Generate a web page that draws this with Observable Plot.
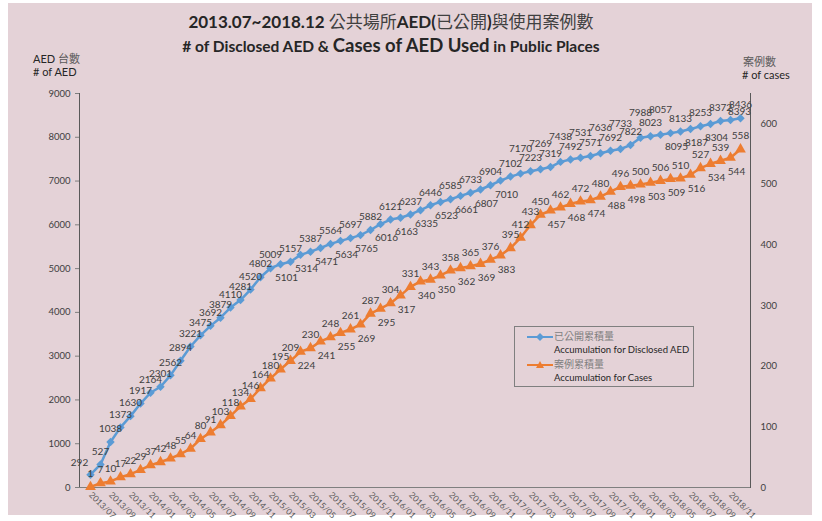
<!DOCTYPE html>
<html><head><meta charset="utf-8">
<script src="https://cdn.jsdelivr.net/npm/d3@7"></script>
<script src="https://cdn.jsdelivr.net/npm/@observablehq/plot@0.6"></script>
<style>
body{margin:0;background:#fff;}
#wrap{position:relative;width:822px;height:521px;overflow:hidden;font-family:Lato,"Noto Sans CJK TC",sans-serif;color:#262626;}
#bg{position:absolute;left:8px;top:3px;width:804px;height:512px;background:#e4d2d7;}
#chart{position:absolute;left:0;top:0;}
.t{position:absolute;white-space:nowrap;}
#t1{left:-20px;width:822px;top:8px;text-align:center;font-size:17px;}
#t2{left:-20px;width:822px;top:34px;text-align:center;font-size:15.5px;font-weight:bold;}
.b{font-weight:bold;}
.zh{font-family:"Noto Sans CJK TC",sans-serif;font-weight:normal;color:#404040;}
.ax{font-size:11px;color:#262626;}
#legend{position:absolute;left:514px;top:326px;width:178px;height:59px;border:1px solid #7f7f7f;font-size:10px;}
.li{position:absolute;left:12px;width:160px;height:28px;}
.li svg{position:absolute;left:0;top:2px;}
.li .z{position:absolute;left:27px;top:0;font-family:"Noto Sans CJK TC";color:#7f7f7f;font-size:10px;line-height:12px;white-space:nowrap;}
.li .e{position:absolute;left:27px;top:14px;font-size:9.5px;color:#262626;line-height:12px;white-space:nowrap;}
</style></head>
<body>
<div id="wrap">
<div id="bg"></div>
<div id="chart"></div>
<div class="t" id="t1"><span class="b">2013.07~2018.12 </span><span class="zh">公共場所</span><span class="b">AED(</span><span class="zh">已公開</span><span class="b">)</span><span class="zh">與使用案例數</span></div>
<div class="t" id="t2"># of Disclosed AED &amp; <span style="font-size:18.5px">Cases of AED Used</span> in Public Places</div>
<div class="t ax" style="left:33px;top:50px;">AED <span class="zh" style="color:#595959">台數</span></div>
<div class="t ax" style="left:33px;top:65px;"># of AED</div>
<div class="t ax" style="left:743px;top:53px;"><span class="zh" style="color:#595959">案例數</span></div>
<div class="t ax" style="left:742px;top:68px;"># of cases</div>
<div id="legend">
  <div class="li" style="top:3px;"><svg width="26" height="10"><line x1="0" y1="5" x2="26" y2="5" stroke="#5b9bd5" stroke-width="2"/><path d="M13,1L17,5L13,9L9,5Z" fill="#5b9bd5"/></svg><span class="z">已公開累積量</span><span class="e">Accumulation for Disclosed AED</span></div>
  <div class="li" style="top:31px;"><svg width="26" height="10"><line x1="0" y1="5" x2="26" y2="5" stroke="#ed7d31" stroke-width="2"/><path d="M13,1L17,8L9,8Z" fill="#ed7d31"/></svg><span class="z">案例累積量</span><span class="e">Accumulation for Cases</span></div>
</div>
</div>
<script>
const months = ["2013/07","2013/08","2013/09","2013/10","2013/11","2013/12",
"2014/01","2014/02","2014/03","2014/04","2014/05","2014/06","2014/07","2014/08","2014/09","2014/10","2014/11","2014/12",
"2015/01","2015/02","2015/03","2015/04","2015/05","2015/06","2015/07","2015/08","2015/09","2015/10","2015/11","2015/12",
"2016/01","2016/02","2016/03","2016/04","2016/05","2016/06","2016/07","2016/08","2016/09","2016/10","2016/11","2016/12",
"2017/01","2017/02","2017/03","2017/04","2017/05","2017/06","2017/07","2017/08","2017/09","2017/10","2017/11","2017/12",
"2018/01","2018/02","2018/03","2018/04","2018/05","2018/06","2018/07","2018/08","2018/09","2018/10","2018/11","2018/12"];
const aedTotal = [292,527,1038,1373,1630,1917,2164,2301,2562,2894,3221,3475,3692,3879,4110,4281,4520,4802,
5009,5101,5157,5314,5387,5471,5564,5634,5697,5765,5882,6016,6121,6163,6237,6335,6446,6523,6585,6661,6733,6807,
6904,7010,7102,7170,7223,7269,7319,7438,7492,7531,7571,7636,7692,7733,7822,7988,8023,8057,8095,8133,8187,8253,8304,8372,8393,8436];
const caseTotal = [1,7,10,17,22,29,37,42,48,55,64,80,91,103,118,134,146,164,180,195,209,224,230,241,248,255,261,269,
287,295,304,317,331,340,343,350,358,362,365,369,376,383,395,412,433,450,457,462,468,472,474,480,488,496,498,500,
503,506,509,510,516,527,534,539,544,558];
const tickMonths = ["2013/07","2013/09","2013/11","2014/01","2014/03","2014/05","2014/07","2014/09","2014/11",
"2015/01","2015/03","2015/05","2015/07","2015/09","2015/11","2016/01","2016/03","2016/05","2016/07","2016/09","2016/11",
"2017/01","2017/03","2017/05","2017/07","2017/09","2017/11","2018/01","2018/03","2018/05","2018/07","2018/09","2018/11"];
const leftTicks = [0,1000,2000,3000,4000,5000,6000,7000,8000,9000];
const rightTicks = [0,100,200,300,400,500,600];
const leftMax = 9000, rightMax = 650;
const k = leftMax / rightMax;

const blue = "#5b9bd5", orange = "#ed7d31", labelColor = "#404040";
const aed = months.map((m, i) => ({m, i, v: aedTotal[i]}));
const cases = months.map((m, i) => ({m, i, v: caseTotal[i], y: caseTotal[i] * k}));

function aedPos(i) {
  if (i === 0) return "left";
  if (i < 19) return "up";
  if (i <= 41) return i % 2 ? "down" : "up";
  if (i <= 57) return i % 2 ? "high" : "up";
  if (i <= 63) return i % 2 ? "up" : "down";
  return i === 64 ? "mid" : "up";
}
function casePos(i) {
  if (i < 20) return "up";
  if (i <= 41) return i % 2 ? "down" : "up";
  if (i <= 44) return "up";
  return i % 2 ? "up" : "down";
}
const offs = {up: [0, -13], down: [6, 14], high: [0, -25], mid: [9, -8], left: [-11, -12]};
const txt = (data, yKey, posFn) => Object.entries(offs).map(([p, [dx, dy]]) =>
  Plot.text(data.filter(d => posFn(d.i) === p), {x: "m", y: yKey, text: d => String(d.v), dx, dy,
    fontSize: 10, fill: labelColor}));

const chart = Plot.plot({
  width: 822, height: 521,
  marginLeft: 79, marginRight: 72, marginTop: 93, marginBottom: 34,
  style: {background: "transparent", fontFamily: "Lato, sans-serif", color: "#404040", overflow: "visible"},
  x: {type: "point", domain: months},
  y: {domain: [0, leftMax]},
  marks: [
    Plot.axisY(leftTicks, {anchor: "left", tickSize: 4, tickPadding: 5, fontSize: 9.5, label: null, stroke: "#7f7f7f",
      tickFormat: d => String(d)}),
    Plot.axisY(rightTicks.map(v => v * k), {anchor: "right", tickSize: 0, tickPadding: 10, fontSize: 9.5, label: null,
      tickFormat: d => String(Math.round(d / k))}),
    Plot.axisX(tickMonths, {anchor: "bottom", tickSize: 0, tickPadding: 6, tickRotate: 45, fontSize: 8.5, fill: "#595959", label: null}),
    Plot.frame({anchor: "left", stroke: "#595959"}),
    Plot.frame({anchor: "right", stroke: "#595959"}),
    Plot.ruleY([0], {stroke: "#7f7f7f"}),
    Plot.line(aed, {x: "m", y: "v", stroke: blue, strokeWidth: 2.5}),
    Plot.dot(aed, {x: "m", y: "v", symbol: "diamond2", fill: blue, stroke: "none", r: 3.8}),
    Plot.line(cases, {x: "m", y: "y", stroke: orange, strokeWidth: 2.5}),
    Plot.dot(cases, {x: "m", y: "y", symbol: "triangle", fill: orange, stroke: "none", r: 4}),
    ...txt(aed, "v", aedPos),
    ...txt(cases, "y", casePos)
  ]
});
document.getElementById("chart").appendChild(chart);
</script>
</body></html>
